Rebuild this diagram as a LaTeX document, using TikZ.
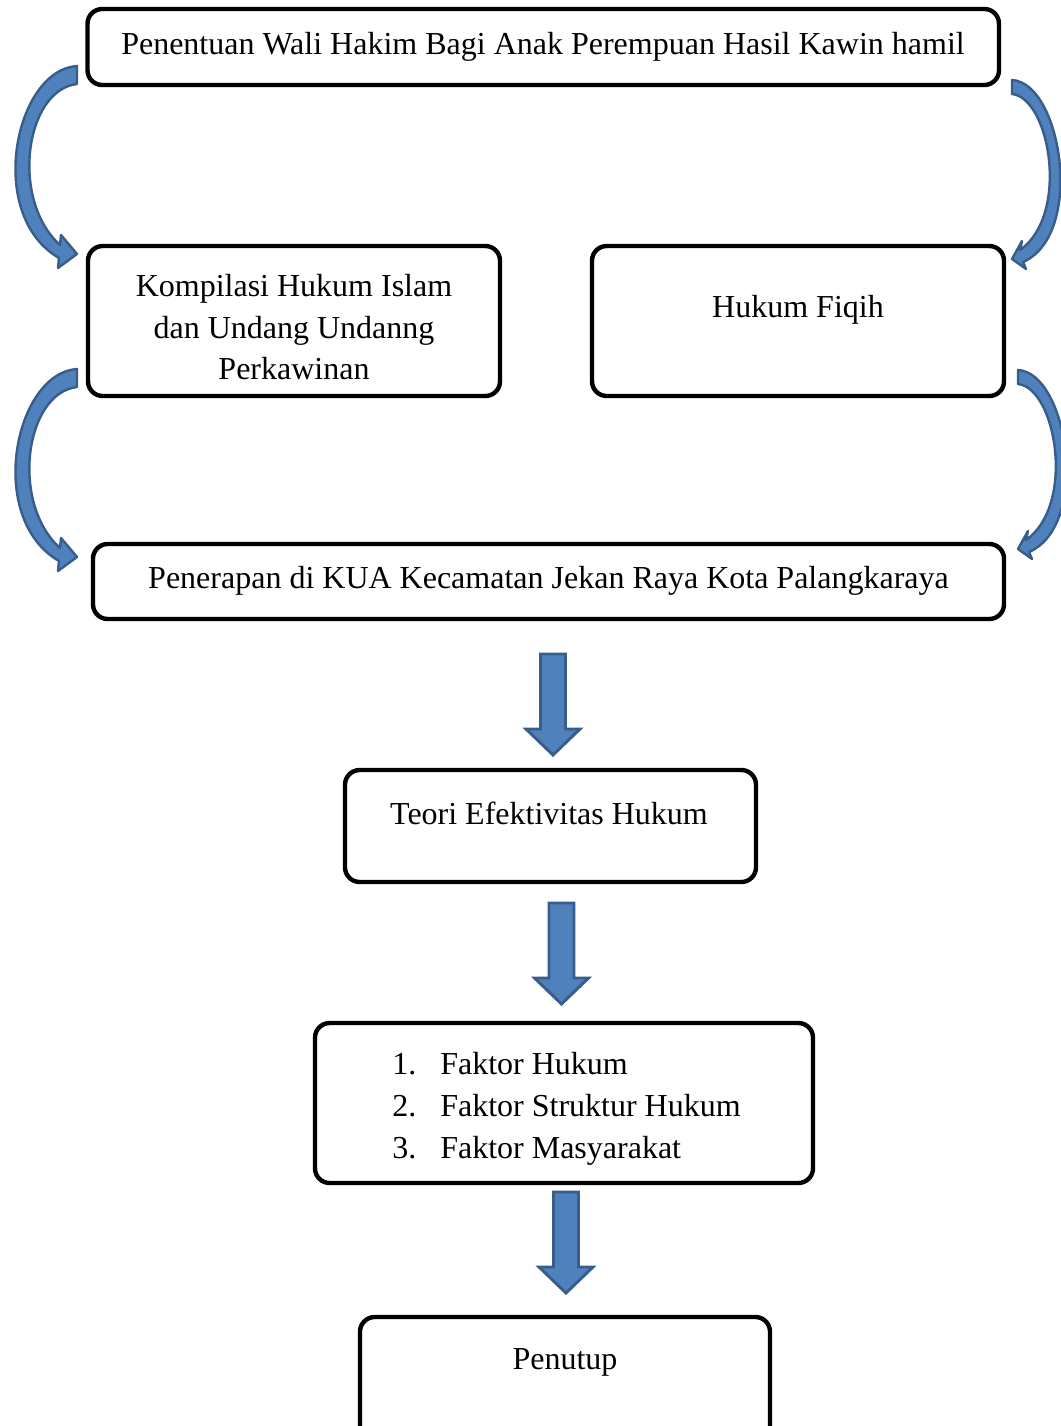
\documentclass[tikz,border=0pt]{standalone}
\usepackage{fontspec}
\setmainfont{Liberation Serif}
\definecolor{arrfill}{HTML}{4F81BD}
\definecolor{arrline}{HTML}{385D8A}
\tikzset{
  box/.style={draw=black, line width=3.3pt, rounded corners=11pt, fill=white, inner sep=0pt},
  txt/.style={font=\fontsize{24}{30}\selectfont, inner sep=0pt, anchor=base},
  txtw/.style={font=\fontsize{24}{30}\selectfont, inner sep=0pt, anchor=base west},
  blockarrow/.style={fill=arrfill, draw=arrline, line width=2.2pt, line join=miter},
  curvearrow/.style={fill=arrfill, draw=arrline, line width=1.8pt, line join=round},
  pics/blockdown/.style={code={
    \path[blockarrow] (-12.5,0) -- (12.5,0) -- (12.5,75) -- (27,75) -- (0,101) -- (-27,75) -- (-12.5,75) -- cycle;
  }},
  pics/leftcurve/.style={code={
    \path[curvearrow] (0,0) .. controls (-62,4) and (-92,149) .. (-18,192)
      -- (-19,202) -- (0,188) -- (-16,169) -- (-17,179)
      .. controls (-67,134) and (-52,24) .. (0,18) -- cycle;
  }},
  pics/rightcurve/.style={code={
    \path[curvearrow] (0,0) .. controls (50,3) and (73,155) .. (11,182)
      -- (14,189) -- (0,179) -- (10,161) -- (8,170)
      .. controls (58,135) and (38,18) .. (0,14) -- cycle;
  }}
}
\begin{document}
\begin{tikzpicture}[x=0.75pt, y=-0.75pt]
\useasboundingbox (0,0) rectangle (1060,1426);

% boxes
\node[box, minimum width=683.6pt, minimum height=57pt] (b1) at (543.25,47) {};
\node[box, minimum width=309pt, minimum height=112.5pt] (b2) at (294,321) {};
\node[box, minimum width=309pt, minimum height=112.5pt] (b3) at (798,321) {};
\node[box, minimum width=683.25pt, minimum height=56.25pt] (b4) at (548.5,581.5) {};
\node[box, minimum width=308.25pt, minimum height=84pt] (b5) at (550.5,826) {};
\node[box, minimum width=373.5pt, minimum height=120pt] (b6) at (564,1103) {};
\node[box, minimum width=307.5pt, minimum height=94.5pt] (b7) at (565,1380) {};

% texts
\node[txt] (t1) at (543,55) {Penentuan Wali Hakim Bagi Anak Perempuan Hasil Kawin hamil};
\node[txt] (t2a) at (294,296.5) {Kompilasi Hukum Islam};
\node[txt] (t2b) at (294,338.5) {dan Undang Undanng};
\node[txt] (t2c) at (294,379.5) {Perkawinan};
\node[txt] (t3) at (798,317.5) {Hukum Fiqih};
\node[txt] (t4) at (548.5,588.5) {Penerapan di KUA Kecamatan Jekan Raya Kota Palangkaraya};
\node[txt] (t5) at (549,824) {Teori Efektivitas Hukum};
\node[txtw] (n1) at (392,1074) {1.};
\node[txtw] (f1) at (440,1074) {Faktor Hukum};
\node[txtw] (n2) at (392,1116) {2.};
\node[txtw] (f2) at (440,1116) {Faktor Struktur Hukum};
\node[txtw] (n3) at (392,1158) {3.};
\node[txtw] (f3) at (440,1158) {Faktor Masyarakat};
\node[txt] (t7) at (565,1369) {Penutup};

% curved arrows
\pic at (77,66) {leftcurve};
\pic at (77,369) {leftcurve};
\pic at (1012,80) {rightcurve};
\pic at (1018,370) {rightcurve};

% block arrows
\pic at (553,654) {blockdown};
\pic at (561.5,903) {blockdown};
\pic at (566,1192) {blockdown};
\end{tikzpicture}
\end{document}
